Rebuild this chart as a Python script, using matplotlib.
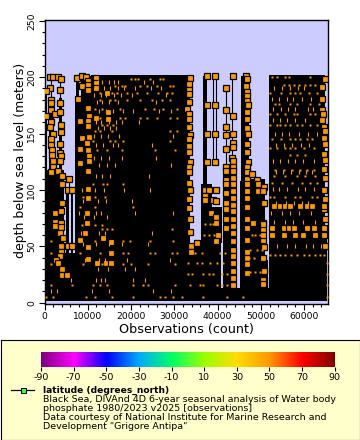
# -*- coding: utf-8 -*-
# Black Sea phosphate observations: depth vs observation count, with latitude colour bar
import numpy as np
import matplotlib
matplotlib.use("Agg")
import matplotlib.pyplot as plt
from matplotlib.colors import LinearSegmentedColormap

plt.rcParams["axes.unicode_minus"] = False

# black areas where the casts overlap: x from, x to, depth from, depth to
band_x0 = [0, 0, 1000, 3300, 0, 4900, 6100, 4400, 7000, 7300, 8400, 10800, 33600, 36200, 38800,
           36700, 41300, 33600, 45200, 45500, 47300, 51000, 51800, 64900]
band_x1 = [600, 4400, 2200, 4100, 33600, 5600, 6550, 7000, 10800, 8000, 10800, 33600, 40900, 38800, 41000,
           37500, 44600, 51800, 47300, 47300, 51000, 51700, 64900, 65200]
band_d0 = [1.5, 1.5, 118, 118, 1.5, 1.5, 1.5, 47.5, 1.5, 178, 178, 1.5, 1.5, 53, 53,
           105, 1.5, 1.5, 1.5, 105, 1.5, 1.5, 1.5, 1.5]
band_d1 = [190, 118, 178, 182, 44, 100, 100, 52.5, 178, 201, 201, 202, 53, 105, 85,
           201, 120, 13, 108, 201, 110, 38, 202, 60]

# single casts seen as thin lines
line_x = [1400, 3500, 5600, 39040, 39590, 41900, 43430]
line_top = [200, 200, 110, 200, 200, 190, 200]
line_bottom = [118, 118, 100, 125, 125, 120, 120]

# points that show as whole orange squares
big_x = [1230, 2000, 3150, 3770, 1230, 450, 3540, 1460, 1460, 3540, 1610, 450, 2540, 3540, 1610,
         3770, 1230, 2000, 3770, 1610, 3540, 1610, 1770, 3540, 3770, 1770, 2000, 3540, 1850,
         1610, 3150, 3930, 5630, 3930, 5470, 6240, 3930, 2400, 3770, 2400, 2400, 3770, 3770, 3540,
         4310, 3770, 5470, 6240, 3770, 3540, 2620, 3150, 3930, 3930, 5090,
         7550, 8560, 9560, 11870, 9950, 8560, 10100, 10100, 7790, 10100, 10250, 8170, 10100, 10100,
         10250, 8560, 9870, 8170, 10100, 10250, 10250, 8170, 11800, 14350, 14730, 14730, 11800, 11870,
         10100, 10100, 10100, 9870, 9870, 9330, 10100, 10100, 8170, 13580, 15350, 15350, 14190, 15350, 12030,
         33640, 33400, 33400, 33400, 33400, 33020, 33400, 33400, 33400, 33640, 33400, 33400, 33400, 33640, 33400,
         33400, 33400, 33640, 33400, 33400, 33640, 33640, 33790, 33790,
         37500, 37500, 37500, 37500, 39500, 39500, 39500, 39500,
         41970, 41900, 41970, 41970, 41970, 41970,
         43515, 43515, 43515, 43515, 43515, 43280, 43515, 43515,
         46500, 46755, 46600, 46755, 46755, 46755, 46990, 46755, 46755, 46755, 46990, 46755, 46755, 46990, 46755,
         64890, 64120, 64120, 64120, 64350, 64120, 64660, 64890, 64660, 64890, 64500, 64890, 64660,
         43670, 43670, 43670, 43670, 43670, 43670, 43670, 43670, 43670, 43670, 43670, 43670, 43670, 43670, 43670, 43670, 43670,
         41970, 41970, 41970, 41970, 41970, 41970, 41970, 41970,
         46755, 46755, 46755, 46755, 46755, 46755, 46755, 46755, 46755, 46755, 46755, 46755, 46755,
         47920, 49070, 49230, 50610, 49230, 50770, 48150, 50460, 50460, 50460, 50610, 50610, 50610,
         37110, 38110, 39650, 37110, 39040, 39650, 37110, 38420, 39650, 39650, 40200, 39650, 35340,
         64890, 64500, 64890, 64500, 64890, 64500, 64890, 64890, 64500,
         50600, 50770, 50600, 50600, 50770, 50450, 50770, 50600, 50600,
         52930, 54470, 55630, 56790, 59100, 60650, 61800, 64500,
         52540, 55240, 56400, 57560, 60650, 62190, 64500,
         52540, 55240, 57790, 59720, 62580, 64500]
big_d = [200, 200, 200, 198, 190, 188, 189, 180, 177, 177, 171, 166, 167, 169, 160,
         158, 156, 150, 151, 145, 141, 140, 135, 133, 130, 131, 126, 126, 120,
         116, 117, 112, 110, 105, 100, 100, 88, 80, 81, 72, 68, 71, 67, 62,
         57, 50, 50, 50, 45, 41, 38, 35, 30, 25, 25,
         199, 201, 200, 199, 197, 192, 193, 189, 181, 173, 166, 161, 161, 157,
         147, 146, 142, 136, 135, 130, 126, 124, 195, 186, 169, 163, 190, 164,
         117, 101, 93, 80, 71, 62, 49, 39, 56, 57, 54, 44, 35, 35, 35,
         199, 194, 189, 185, 178, 172, 167, 163, 156, 149, 145, 139, 134, 125, 120,
         106, 92, 100, 116, 84, 74, 63, 50, 45,
         201, 175, 150, 125, 201, 175, 150, 125,
         190, 171, 155.5, 149, 136, 120,
         201, 166, 150, 142, 138, 128, 126, 120,
         201, 198, 192, 187, 183, 179, 175, 169, 163, 155, 150, 141, 134, 125, 120,
         198, 191, 181, 171, 167, 162, 156, 152, 146, 141, 132, 127, 119,
         117, 111, 105, 99, 93, 87, 81, 74, 68, 62, 55, 47, 41, 35, 28, 22, 16,
         117, 109, 105, 97, 88, 83, 74, 66,
         116, 110, 105, 99, 93, 85, 74, 66, 56, 45, 40, 34, 26,
         114, 109, 105, 103, 99, 88, 71, 71, 65, 56, 29, 20, 16,
         100, 100, 100, 95, 91, 90, 91, 80, 76, 71, 60, 55, 53,
         111, 100, 92, 83, 74, 65, 50, 63, 60,
         99, 88.5, 70, 60, 49, 40, 28, 20, 17,
         85.5, 85.5, 85.5, 85.5, 85.5, 85.5, 85.5, 85.5,
         66, 66, 66, 66, 66, 66, 66,
         60, 60, 60, 60, 60, 60]

# rows of small orange bits left showing through the black
speck_depth = [200, 198, 193, 192, 186, 186, 180, 176, 172, 167, 164, 158, 158, 152, 145, 143, 137, 135,
               131, 118, 112, 106, 105, 94, 94, 85, 70, 69, 65, 60, 55, 47, 44.5, 42, 40, 35, 34.5, 27, 25.5,
               16, 16, 5.3, 5]
speck_x = [[52540, 53700, 55630, 56560, 61420],
           [20100, 20900, 21700, 24400, 26700, 27500],
           [55400, 56400, 57560, 58720, 60260, 61420, 62580],
           [16300, 17800, 18600, 22100, 23600, 25900, 29000, 29800],
           [52160, 54630, 56790, 57940, 59100, 61030, 62960],
           [12800, 15500, 16700, 19000, 21300, 23600, 26300, 28200, 29400],
           [12800, 15100, 16300, 19000, 22100, 24800, 27100, 29000],
           [53310, 54090, 56790, 58330, 61420, 63350],
           [11650, 13200, 17400, 23200, 25200, 27500, 30550],
           [52160, 53700, 55630, 57560, 58330, 61420, 62580],
           [12800, 17400, 18600, 22100, 23600, 25900, 29000, 30550],
           [13200, 14350, 15900],
           [52160, 53700, 54470, 55630, 56790, 58330, 59490, 61420, 62960],
           [11650, 12800, 15500, 29000, 30550],
           [52540, 54630, 56790, 57940, 59100, 60650, 61800],
           [11260, 15100, 16300, 18200, 29000],
           [52160, 53700, 55630, 56790, 57940, 59870, 62190],
           [12030, 14350, 17800, 25500, 30200],
           [56790, 58330, 60260],
           [53310, 55240, 57170, 59100, 60650, 62190],
           [52930, 55630, 58330, 60260, 62580],
           [52540, 54860, 57170, 59490, 61420, 62960],
           [11260, 13580, 14350, 18200],
           [8950, 11650, 13960],
           [52160, 52930, 55630, 57940, 59100, 61800, 62960],
           [8170, 11650, 20500],
           [37110, 38270, 39040],
           [8560, 11650, 13200],
           [13200, 14350, 15500, 29400],
           [36800, 38000, 39200, 47900, 48700, 49840],
           [1610, 8170, 11650, 15500, 18200, 19750, 24400, 29800],
           [47600, 49100, 50250],
           [1610, 8170, 12800, 18200, 19400, 24400, 25500, 29400, 30550, 34800, 36300, 40600, 41740],
           [52160, 53310, 54470, 55630, 56950, 58330, 59870, 61030, 62580, 63730, 64500],
           [47200, 48300, 50250],
           [33250, 35180, 36340, 38270, 39810, 41350, 65200],
           [1610, 8950, 12030, 13200, 18200, 20100, 24000, 30200],
           [47600, 48700, 49840],
           [33250, 34000, 36700, 37900, 39040, 41000, 42125, 65200],
           [1610, 6250, 11260, 12800, 14350, 20500, 22800, 24000, 30200],
           [33640, 35950, 36700, 39810, 41000, 42125, 65200],
           [450, 2000, 9700, 11650, 15500, 20500, 26700, 27850, 29800],
           [31700, 36700, 42125, 45980, 65200]]

# upright bits, one row of x values for each depth
dash_depth = [196, 190, 184, 178, 170, 160, 155, 148, 140, 128, 122, 112, 100, 90, 80, 76, 62, 52, 38, 30, 20, 10,
              190, 181, 172, 162, 150, 140, 126, 116, 101, 88, 80, 72, 50]
dash_x = [[12400, 13300, 14800, 16100, 17100, 23000, 25100],
          [12200, 13700, 15200, 16900, 18300, 20800, 24700, 27000],
          [11500, 13000, 14300, 16000, 17600, 20200, 28000],
          [12100, 13400, 14900, 17000, 25800],
          [12500, 14100, 15800, 18100, 20400, 26500, 29300],
          [11800, 13000, 15000, 16500, 17900, 21900],
          [12300, 13700, 15200, 16600],
          [11500, 13100, 14700, 17200, 29800],
          [12000, 13500, 15800, 17000, 24800],
          [11400, 13000, 14900, 18000, 25800],
          [12700, 14500, 16200, 29300],
          [11900, 13300, 15100, 24200],
          [8600, 11700, 13800, 18300, 24400],
          [9000, 12300, 14100, 20300],
          [8000, 12000, 13100, 20900, 29800],
          [9200, 11500, 14400],
          [8400, 12600, 13900, 24800],
          [8900, 11900, 14800, 18000, 24000],
          [9400, 12500, 14000, 19100, 29000],
          [12300, 14600, 18700, 21000],
          [6200, 11800, 13100, 14000, 20400, 23300],
          [1400, 3000, 10900, 14900, 25000, 29300],
          [53000, 55000, 56800, 58500, 60000],
          [52500, 54200, 56000, 57400, 59600, 61700],
          [52900, 54700, 56300, 57800, 60900, 62000],
          [52700, 54400, 56100, 58000, 60300],
          [53200, 55000, 56600, 58700, 60800, 62900],
          [53600, 55400, 57300, 59300, 61200],
          [52800, 54500, 56200, 58000, 59800, 62200],
          [53400, 55100, 57000, 58900, 60500, 61900],
          [52700, 54200, 56100, 58500, 60100, 62300],
          [53500, 55900, 57600, 59400, 61000],
          [52400, 54800, 56700, 58800, 61600],
          [53000, 55500, 57500, 59700, 62400],
          [53800, 56000, 58000, 60400, 62100, 64000]]

# latitude colour bar
bar_ticks = [-90, -70, -50, -30, -10, 10, 30, 50, 70, 90]
bar_colors = ["#800080", "#ff00ff", "#0000ff", "#00aaff", "#00ff66",
              "#99ff00", "#ffdd00", "#ff9900", "#ff0000", "#800000"]

legend_title = "latitude (degrees_north)"
legend_lines = ["Black Sea, DIVAnd 4D 6-year seasonal analysis of Water body",
                "phosphate 1980/2023 v2025 [observations]",
                "Data courtesy of National Institute for Marine Research and",
                'Development "Grigore Antipa"']

W, H = 360, 440
fig = plt.figure(figsize=(W / 100, H / 100), dpi=100)

# 主グラフ
ax = fig.add_axes([44.5 / W, 1 - 303.5 / H, 283 / W, 283 / H], facecolor="#ccccff")
ax.bar(band_x0, np.array(band_d1) - np.array(band_d0), np.array(band_x1) - np.array(band_x0),
       bottom=band_d0, align="edge", color="black", linewidth=0, zorder=1)
ax.vlines(line_x, line_bottom, line_top, color="black", linewidth=0.8, zorder=2)
ax.plot(big_x, big_d, "s", ms=4.1, mfc="#ff9900", mec="black", mew=0.9, zorder=3)
for d, xs in zip(speck_depth, speck_x):
    ax.plot(xs, [d] * len(xs), "s", ms=1.7, mfc="#ff9900", mec="none", zorder=4)
for d, xs in zip(dash_depth, dash_x):
    ax.plot(xs, [d] * len(xs), "|", ms=3.2, color="#ff9900", mew=0.8, zorder=4)

ax.set_xlim(0, 65400)
ax.set_ylim(-0.7, 250.3)
ax.set_xticks(np.arange(0, 60001, 10000))
ax.set_xticks(np.arange(0, 65001, 2000), minor=True)
ax.set_yticks(np.arange(0, 251, 50))
ax.set_yticks(np.arange(0, 251, 10), minor=True)
ax.tick_params(which="major", length=4, width=0.8, labelsize=6.6, pad=2)
ax.tick_params(which="minor", length=2, width=0.8)
plt.setp(ax.get_yticklabels(), rotation=90, va="center")
ax.set_xlabel("Observations (count)", fontsize=9.2, labelpad=1.5)
ax.set_ylabel("depth below sea level (meters)", fontsize=9.0, labelpad=0, y=0.505)
for s in ax.spines.values():
    s.set_linewidth(1.0)

# 凡例パネル
panel = fig.add_axes([0.5 / W, 0.5 / H, 359 / W, 99.5 / H], facecolor="#ffffcc")
panel.set_xlim(0, 359)
panel.set_ylim(99.5, 0)
panel.set_xticks([])
panel.set_yticks([])
panel.plot([10, 33], [50, 50], color="black", linewidth=0.9)
panel.plot([22], [50], "s", ms=3.6, mfc="#33ff33", mec="black", mew=0.7)
panel.text(42.5, 50, legend_title, fontsize=6.6, fontweight="bold", va="center")
for i, line in enumerate(legend_lines):
    panel.text(42.5, 59.5 + i * 9.1, line, fontsize=6.8, va="center")

cax = fig.add_axes([41 / W, 1 - 367 / H, 293.7 / W, 15 / H])
cmap = LinearSegmentedColormap.from_list("rainbow2", bar_colors)
cax.imshow(np.linspace(0, 1, 256)[None, :], cmap=cmap, aspect="auto", extent=[-90, 90, 0, 1])
cax.set_yticks([])
cax.set_xticks(bar_ticks)
cax.tick_params(length=3, width=0.8, labelsize=6.8, pad=1.5)
for s in cax.spines.values():
    s.set_visible(False)

fig.savefig("out.png", dpi=100)
